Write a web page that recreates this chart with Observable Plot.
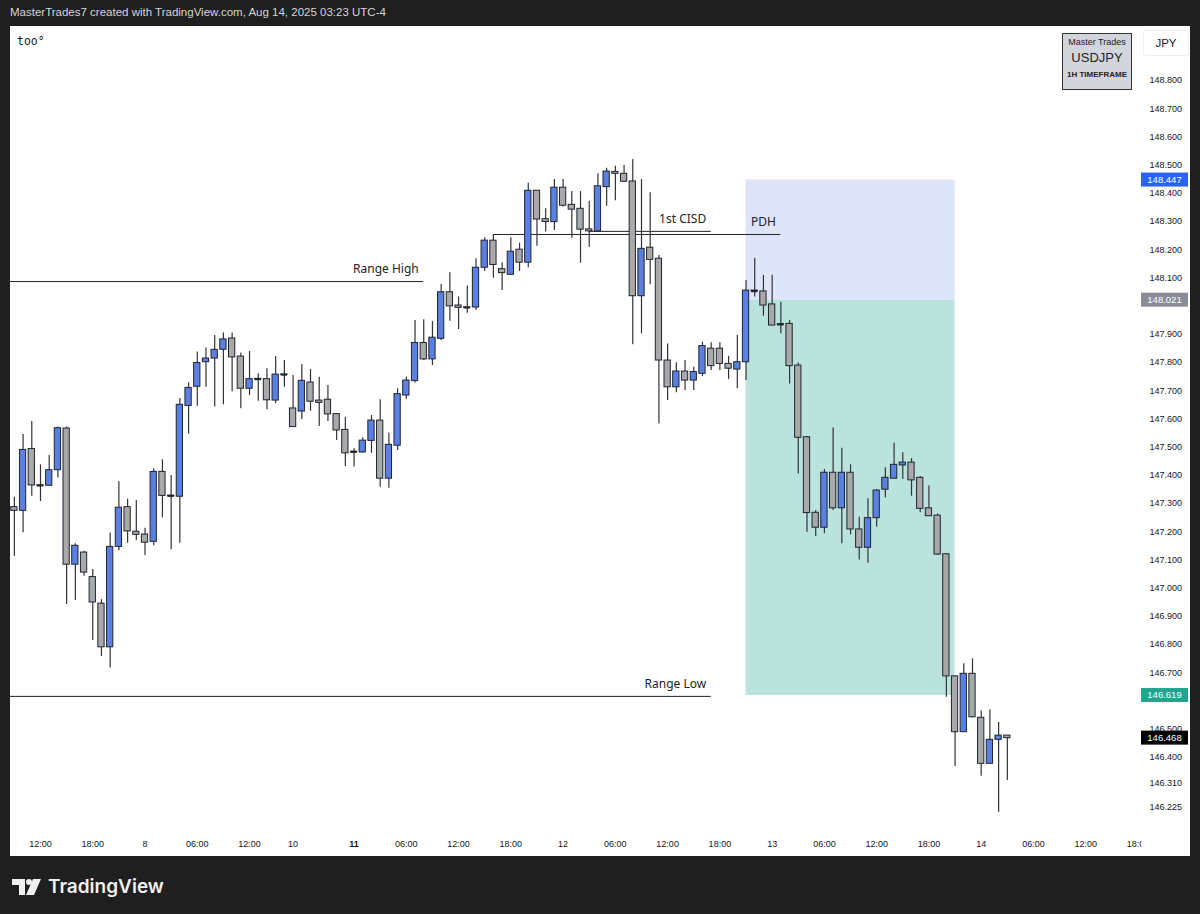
<!DOCTYPE html>
<html><head><meta charset="utf-8">
<script src="https://cdn.jsdelivr.net/npm/d3@7"></script>
<script src="https://cdn.jsdelivr.net/npm/@observablehq/plot@0.6"></script>
<style>
html,body{margin:0;padding:0;background:#1f1f1f;width:1200px;height:914px;overflow:hidden;font-family:"Liberation Sans",Arial,sans-serif}
#top{position:absolute;left:10px;top:6px;color:#d6d6d6;font-size:11.5px;white-space:nowrap}
#panel{position:absolute;left:10px;top:26px;width:1180px;height:830px;background:#fff}
#sym{position:absolute;left:7px;top:8px;font-size:11.5px;color:#222;font-family:"DejaVu Sans Mono",monospace}
#info{position:absolute;left:1052px;top:7px;width:68px;height:55px;border:1.5px solid #333;background:#d3d5dc;text-align:center;color:#222}
#info .a{font-size:9px;margin-top:3px}
#info .b{font-size:13px;margin-top:3px}
#info .c{font-size:8px;font-weight:bold;margin-top:5px}
#jpy{position:absolute;left:1133px;top:4px;width:44px;height:24px;border:1px solid #eceef2;border-radius:3px;font-size:11.5px;color:#222;text-align:center;line-height:24px}
#logo{position:absolute;left:12px;top:875px;display:flex;align-items:center;color:#f0f0f0;font-family:Inter,"Noto Sans",sans-serif;font-weight:600;font-size:19px}
</style></head>
<body>
<div id="top">MasterTrades7 created with TradingView.com, Aug 14, 2025 03:23 UTC-4</div>
<div id="panel"><div id="chart"></div>
<div id="sym">too°</div>
<div id="info"><div class="a">Master Trades</div><div class="b">USDJPY</div><div class="c">1H TIMEFRAME</div></div>
<div id="jpy">JPY</div>
</div>
<div id="logo"><svg width="30" height="20" viewBox="0 0 30 20" style="margin-right:6px"><path d="M0 2h13v16H7V8H0z" fill="#f0f0f0"/><circle cx="17" cy="5" r="3" fill="#f0f0f0"/><path d="M21 2h8l-7 16h-8z" fill="#f0f0f0"/></svg>TradingView</div>
<script>
// ---- data (USDJPY 1H, first bar 2025-08-07 09:00) ----
const opens = [147.287,147.274,147.493,147.365,147.363,147.418,147.566,147.083,147.126,147.039,146.945,146.790,147.146,147.287,147.200,147.190,147.164,147.412,147.328,147.324,
147.646,147.714,147.801,147.814,147.845,147.885,147.821,147.707,147.742,147.741,147.665,147.758,147.637,147.626,147.729,147.665,147.668,147.617,147.561,147.484,
147.481,147.522,147.594,147.388,147.505,147.683,147.734,147.869,147.811,147.884,148.049,148.002,147.996,147.995,148.136,148.232,148.131,148.111,148.200,148.154,
148.409,148.308,148.298,148.420,148.359,148.345,148.272,148.265,148.422,148.476,148.469,148.442,148.035,148.207,148.168,147.807,147.712,147.768,147.736,147.760,
147.849,147.849,147.795,147.775,147.801,148.055,148.052,148.006,147.936,147.937,147.789,147.535,147.267,147.214,147.409,147.283,147.409,147.208,147.143,147.248,
147.349,147.388,147.435,147.445,147.391,147.283,147.257,147.120,146.687,146.489,146.696,146.540,146.377,146.462,146.477];
const highs = [147.322,147.545,147.591,147.437,147.470,147.571,147.571,147.157,147.131,147.066,146.959,147.195,147.377,147.315,147.311,147.212,147.423,147.455,147.399,147.672,
147.728,147.837,147.851,147.896,147.905,147.905,147.834,147.839,147.760,147.778,147.821,147.807,147.754,147.793,147.775,147.748,147.718,147.618,147.606,147.494,
147.533,147.612,147.668,147.549,147.707,147.749,147.949,147.952,147.945,148.077,148.118,148.032,148.071,148.168,148.242,148.254,148.154,148.242,148.223,148.436,
148.409,148.345,148.449,148.449,148.406,148.406,148.372,148.469,148.489,148.496,148.499,148.520,148.449,148.402,148.179,147.866,147.799,147.807,147.783,147.872,
147.870,147.870,147.822,147.896,148.091,148.170,148.109,148.109,148.014,147.949,147.798,147.538,147.275,147.421,147.568,147.496,147.437,147.251,147.317,147.350,
147.427,147.514,147.480,147.459,147.396,147.362,147.263,147.122,146.687,146.732,146.749,146.564,146.568,146.523,146.477];
const lows = [147.113,147.196,147.326,147.307,147.361,147.390,146.942,146.956,147.042,146.814,146.757,146.717,147.132,147.159,147.169,147.116,147.150,147.249,147.136,147.159,
147.546,147.645,147.712,147.642,147.650,147.696,147.636,147.683,147.663,147.632,147.654,147.712,147.571,147.598,147.627,147.573,147.591,147.523,147.431,147.429,
147.478,147.478,147.358,147.354,147.488,147.670,147.727,147.807,147.789,147.878,147.946,147.917,147.975,147.984,148.123,148.099,148.055,148.111,148.123,148.136,
148.212,148.263,148.268,148.351,148.241,148.152,148.209,148.261,148.354,148.374,148.439,147.863,147.902,148.076,147.583,147.665,147.693,147.701,147.701,147.750,
147.772,147.772,147.740,147.707,147.736,148.032,147.964,147.931,147.902,147.724,147.405,147.198,147.183,147.193,147.275,147.157,147.189,147.100,147.088,147.216,
147.320,147.388,147.385,147.326,147.267,147.255,147.116,146.613,146.367,146.489,146.540,146.333,146.377,146.205,146.318];
const closes = [147.274,147.490,147.364,147.363,147.418,147.567,147.083,147.150,147.055,146.949,146.790,147.146,147.285,147.201,147.189,147.161,147.412,147.327,147.326,147.650,
147.710,147.798,147.814,147.845,147.882,147.818,147.707,147.741,147.740,147.666,147.757,147.756,147.571,147.735,147.661,147.657,147.616,147.559,147.478,147.482,
147.523,147.594,147.388,147.508,147.688,147.736,147.869,147.811,147.888,148.049,147.999,147.994,147.994,148.136,148.232,148.146,148.117,148.193,148.154,148.409,
148.307,148.298,148.420,148.356,148.342,148.271,148.265,148.425,148.477,148.469,148.441,148.035,148.203,148.164,147.807,147.712,147.768,147.736,147.766,147.858,
147.787,147.795,147.778,147.801,148.055,148.052,148.002,147.931,147.934,147.787,147.533,147.266,147.214,147.409,147.283,147.409,147.208,147.143,147.248,147.346,
147.391,147.437,147.445,147.382,147.281,147.255,147.119,146.687,146.489,146.696,146.542,146.377,146.462,146.477,146.468];

// price-axis labels (148.000 and 146.600 sit under the entry/target tags, so they are not listed)
const priceTicks = [148.8,148.7,148.6,148.5,148.4,148.3,148.2,148.1,147.9,147.8,147.7,147.6,147.5,147.4,147.3,147.2,147.1,147.0,146.9,146.8,146.7,146.5,146.4,146.31,146.225];
const timeTickTimes  = ["2025-08-07T12:00","2025-08-07T18:00","2025-08-08T00:00","2025-08-08T06:00","2025-08-08T12:00","2025-08-10T17:00","2025-08-11T00:00","2025-08-11T06:00","2025-08-11T12:00","2025-08-11T18:00","2025-08-12T00:00","2025-08-12T06:00","2025-08-12T12:00","2025-08-12T18:00","2025-08-13T00:00","2025-08-13T06:00","2025-08-13T12:00","2025-08-13T18:00","2025-08-14T00:00","2025-08-14T06:00","2025-08-14T12:00","2025-08-14T18:00"];
const timeTickLabels = ["12:00","18:00","8","06:00","12:00","10","11","06:00","12:00","18:00","12","06:00","12:00","18:00","13","06:00","12:00","18:00","14","06:00","12:00","18:00"];

const levelLabels = ["Range High","Range Low","1st CISD","PDH"];
const levelPrices = [148.087,146.616,148.265,148.254];
const levelFrom   = ["2025-08-07T04:00","2025-08-07T04:00","2025-08-12T03:00","2025-08-11T16:00"];
const levelTo     = ["2025-08-11T08:00","2025-08-12T17:00","2025-08-12T17:00","2025-08-13T01:00"];

const posFrom = "2025-08-12T21:00", posTo = "2025-08-13T21:00";
const stopPrice = 148.447, entryPrice = 148.021, targetPrice = 146.619, lastPrice = 146.468;

// ---- timeline: hourly bars, market closed Fri 17:00 -> Sun 17:00 ----
const START = Date.UTC(2025,7,7,9), WEEKEND_CLOSE = Date.UTC(2025,7,8,17);
function barIndex(s){const t=Date.parse(s+":00Z");let h=(t-START)/3.6e6;if(t>=WEEKEND_CLOSE)h-=48;return h;}

const candles = opens.map((o,i)=>({i,o,h:highs[i],l:lows[i],c:closes[i]}));
const levels = levelLabels.map((label,k)=>({label,price:levelPrices[k],x1:barIndex(levelFrom[k]),x2:barIndex(levelTo[k])}));
const zones = [
  {x1:barIndex(posFrom),x2:barIndex(posTo),y1:entryPrice,y2:stopPrice,fill:"#dee5fb"},
  {x1:barIndex(posFrom),x2:barIndex(posTo),y1:targetPrice,y2:entryPrice,fill:"#b9e3dc"}
];
const tickIdx = timeTickTimes.map(barIndex);
const labelOf = new Map(tickIdx.map((v,k)=>[v,timeTickLabels[k]]));

const BLUE="#5b80e2", GREY="#a9a9a9", EDGE="#1e2430";
const HW=0.36;

const plot = Plot.plot({
  width:1180, height:830, marginLeft:0, marginRight:50, marginTop:0, marginBottom:26,
  style:{background:"#fff", fontFamily:"'Liberation Sans',Arial,sans-serif", fontSize:"9px", color:"#131722"},
  x:{type:"linear", domain:[-0.444,129.29]},
  y:{domain:[146.1404,148.9915]},
  color:{type:"identity"},
  marks:[
    Plot.rect(zones,{x1:"x1",x2:"x2",y1:"y1",y2:"y2",fill:"fill"}),
    Plot.ruleY(levels,{y:"price",x1:"x1",x2:"x2",stroke:"#222",strokeWidth:1,clip:true}),
    Plot.text(levels,{x:"x2",y:"price",text:"label",textAnchor:"end",dx:-5,dy:-12,fontSize:12,fill:"#222",fontFamily:"'Noto Sans',sans-serif"}),
    Plot.ruleX(candles,{x:"i",y1:"l",y2:"h",stroke:"#333",strokeWidth:1.2}),
    Plot.rect(candles,{x1:d=>d.i-HW,x2:d=>d.i+HW,y1:"o",y2:"c",fill:d=>d.c>d.o?BLUE:GREY,stroke:EDGE,strokeWidth:1}),
    Plot.ruleY(candles.filter(d=>Math.abs(d.c-d.o)<0.004),{y:"c",x1:d=>d.i-HW,x2:d=>d.i+HW,stroke:EDGE,strokeWidth:1.5}),
    Plot.axisY(priceTicks,{anchor:"right",tickSize:0,tickPadding:9,tickFormat:d3.format(".3f"),label:null}),
    Plot.axisX(tickIdx,{anchor:"bottom",tickSize:0,tickPadding:10,tickFormat:d=>labelOf.get(d),label:null})
  ]
});
document.getElementById("chart").appendChild(plot);

// price tags on the right axis
const svg = d3.select(plot);
const ys = plot.scale("y");
svg.append("defs").append("clipPath").attr("id","xclip").append("rect").attr("x",0).attr("y",0).attr("width",1131).attr("height",830);
svg.selectAll('g[aria-label="x-axis tick label"]').attr("clip-path","url(#xclip)");
svg.selectAll('g[aria-label="x-axis tick label"] text').filter(function(){return this.textContent==="11";}).attr("font-weight","bold");
const tags=[[stopPrice,"#2962ff","#fff"],[entryPrice,"#8a8d96","#fff"],[targetPrice,"#22a48e","#fff"],[lastPrice,"#000","#fff"]];
for(const [v,bg,fg] of tags){
  const y=ys.apply(v);
  svg.append("rect").attr("x",1131).attr("y",y-7).attr("width",47).attr("height",14).attr("fill",bg);
  svg.append("text").attr("x",1154.5).attr("y",y).attr("dy","0.35em").attr("text-anchor","middle").attr("fill",fg).attr("font-size",9.5).text(d3.format(".3f")(v));
}
</script>
</body></html>
